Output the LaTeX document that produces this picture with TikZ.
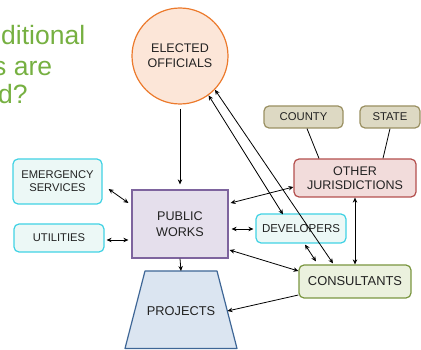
\documentclass[tikz,border=0pt]{standalone}
\usepackage{fontspec}
\setmainfont{Liberation Sans}
\usetikzlibrary{arrows.meta,calc}
\definecolor{qgreen}{HTML}{76B041}
\definecolor{eofill}{HTML}{FCE6D8}
\definecolor{eodraw}{HTML}{EC7A2C}
\definecolor{pwfill}{HTML}{E5DFEC}
\definecolor{pwdraw}{HTML}{7E649E}
\definecolor{prfill}{HTML}{DBE5F1}
\definecolor{prdraw}{HTML}{3E6696}
\definecolor{cyfill}{HTML}{ECF8F6}
\definecolor{cydraw}{HTML}{40D2E4}
\definecolor{khfill}{HTML}{DDD9C3}
\definecolor{khdraw}{HTML}{9A9062}
\definecolor{ojfill}{HTML}{F2DCDB}
\definecolor{ojdraw}{HTML}{B4504E}
\definecolor{cofill}{HTML}{EBF1DE}
\definecolor{codraw}{HTML}{7A9640}
\definecolor{txt}{HTML}{222222}
\tikzset{
  box/.style={draw, rounded corners=5pt, line width=1.2pt, inner sep=0pt, align=center, text=txt},
  cybox/.style={box, fill=cyfill, draw=cydraw, font=\fontsize{11.2}{13}\selectfont},
  khbox/.style={box, fill=khfill, draw=khdraw, font=\fontsize{11.3}{13}\selectfont},
  conn/.style={line width=0.8pt, black},
  arr/.style={conn, -{Stealth[length=5pt,width=4.5pt]}},
  dbl/.style={conn, {Stealth[length=5pt,width=4.5pt]}-{Stealth[length=5pt,width=4.5pt]}},
  qtext/.style={anchor=base west, text=qgreen, font=\fontsize{26.5}{30}\selectfont, inner sep=0pt}
}
\begin{document}
\begin{tikzpicture}[x=1pt,y=-1pt]
\useasboundingbox (0,0) rectangle (421,350);
% question text
\node[qtext] (q1) at (1,45) {ditional};
\node[qtext] (q2) at (-7,76) {s are};
\node[qtext] (q3) at (-2,104) {d?};
% nodes
\node[circle, draw=eodraw, fill=eofill, line width=1.2pt, minimum size=96pt, inner sep=0pt, align=center, text=txt, font=\fontsize{12.5}{15}\selectfont] (eo) at (180,56) {ELECTED\\OFFICIALS};
\node[draw=pwdraw, fill=pwfill, line width=1.2pt, minimum width=96pt, minimum height=68pt, inner sep=0pt, align=center, text=txt, font=\fontsize{12.6}{16}\selectfont] (pw) at (180,224) {PUBLIC\\WORKS};
\coordinate (pa) at (145,271);
\coordinate (pb) at (217,271);
\coordinate (pc) at (237,348.5);
\coordinate (pd) at (125,348.5);
\draw[draw=prdraw, fill=prfill, line width=1.2pt, line join=round] (pa) -- (pb) -- (pc) -- (pd) -- cycle;
\node[text=txt, font=\fontsize{12.8}{15}\selectfont, inner sep=0pt] (proj) at (181,311) {PROJECTS};
\coordinate (projT) at (181,271);
\coordinate (projR) at (227.5,311);
\node[cybox, minimum width=89pt, minimum height=45pt] (es) at (57.5,181.5) {EMERGENCY\\SERVICES};
\node[cybox, minimum width=90pt, minimum height=28pt] (ut) at (59,238) {UTILITIES};
\node[cybox, minimum width=90pt, minimum height=29pt, font=\fontsize{11.5}{13}\selectfont] (dev) at (301,228.5) {DEVELOPERS};
\node[khbox, minimum width=79pt, minimum height=22pt] (county) at (303.5,117) {COUNTY};
\node[khbox, minimum width=60pt, minimum height=22pt] (state) at (390,117) {STATE};
\node[box, fill=ojfill, draw=ojdraw, minimum width=122pt, minimum height=38pt, font=\fontsize{12.5}{14.5}\selectfont] (oj) at (355,178) {OTHER\\JURISDICTIONS};
\node[box, fill=cofill, draw=codraw, minimum width=112pt, minimum height=33pt, font=\fontsize{12.9}{15}\selectfont] (con) at (355,281.5) {CONSULTANTS};
% connectors
\draw[arr, shorten <=4pt, shorten >=5pt] (eo.south) -- (pw.north);
\draw[arr] (pw.south) -- (projT);
\draw[dbl] ($(es.east)+(6,7.5)$) -- ($(pw.west)+(-3,-21)$);
\draw[dbl] ($(ut.east)+(2,2)$) -- ($(pw.west)+(-3,16)$);
\draw[dbl] ($(pw.east)+(3,5)$) -- ($(dev.west)+(-2,0.5)$);
\draw[dbl] ($(pw.east)+(2,-21)$) -- ($(oj.west)+(0,9)$);
\draw[dbl] ($(pw.east)+(1,26)$) -- ($(con.west)+(0,-10.5)$);
\draw[dbl] ($(dev.south)+(4,1)$) -- ($(con.north)+(-39,-3)$);
\draw[dbl] (oj.south) -- (con.north);
\draw[arr] ($(con.west)+(0,13.5)$) -- (projR);
\draw[dbl] (eo.-54) -- ($(dev.north)+(-18,1)$);
\draw[dbl] (eo.-44) -- ($(con.north)+(-22,-1)$);
\draw[conn] ($(county.south)+(3.5,0)$) -- ($(oj.north)+(-36,0)$);
\draw[conn] (state.south) -- ($(oj.north)+(28,0)$);
\end{tikzpicture}
\end{document}
